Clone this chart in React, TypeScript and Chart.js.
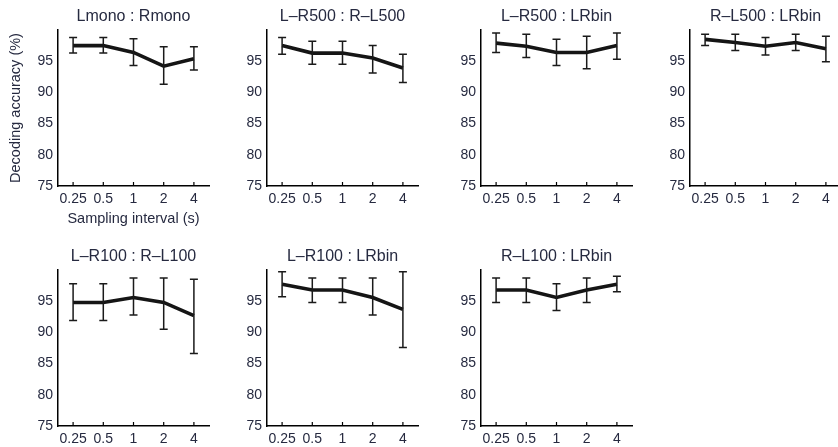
import React, { useEffect, useRef } from 'react';
import { Chart, registerables } from 'chart.js';

Chart.register(...registerables);

// ---------- data ----------
const categories = ['0.25', '0.5', '1', '2', '4'];
const yTickValues = [75, 80, 85, 90, 95];
const yTitle = 'Decoding accuracy (%)';
const xTitle = 'Sampling interval (s)';

const lmonoRmonoMean = [97.5, 97.5, 96.4, 94.2, 95.4];
const lmonoRmonoHigh = [98.8, 98.8, 98.6, 97.3, 97.3];
const lmonoRmonoLow = [96.3, 96.3, 94.3, 91.3, 93.6];

const lr500Rl500Mean = [97.5, 96.3, 96.3, 95.5, 93.9];
const lr500Rl500High = [98.8, 98.2, 98.2, 97.5, 96.1];
const lr500Rl500Low = [96.1, 94.5, 94.5, 93.1, 91.6];

const lr500LrbinMean = [97.9, 97.4, 96.4, 96.4, 97.5];
const lr500LrbinHigh = [99.5, 99.3, 98.5, 99.0, 99.5];
const lr500LrbinLow = [96.4, 95.6, 94.3, 93.8, 95.3];

const rl500LrbinMean = [98.5, 98.0, 97.4, 98.0, 97.0];
const rl500LrbinHigh = [99.3, 99.3, 98.8, 99.3, 99.0];
const rl500LrbinLow = [97.5, 96.7, 96.0, 96.7, 94.9];

const lr100Rl100Mean = [94.8, 94.8, 95.6, 94.8, 92.7];
const lr100Rl100High = [97.8, 97.8, 98.7, 98.7, 98.5];
const lr100Rl100Low = [91.9, 91.9, 92.8, 90.5, 86.6];

const lr100LrbinMean = [97.7, 96.8, 96.8, 95.6, 93.7];
const lr100LrbinHigh = [99.7, 98.7, 98.7, 98.7, 99.7];
const lr100LrbinLow = [95.7, 94.8, 94.8, 92.8, 87.6];

const rl100LrbinMean = [96.8, 96.8, 95.6, 96.8, 97.7];
const rl100LrbinHigh = [98.7, 98.7, 97.8, 98.7, 99.0];
const rl100LrbinLow = [94.8, 94.8, 93.5, 94.8, 96.5];

// ---------- layout ----------
const FONT = "'Liberation Sans', Arial, Helvetica, sans-serif";
const TEXT = '#262a40';
const Y_AXIS_W = 58;
const PLOT_W = 151;
const PLOT_H = 156;
const TITLE_H = 30;
const X_AXIS_H = 44;
const RIGHT_PAD = 12;
const CANVAS_W = Y_AXIS_W + PLOT_W + RIGHT_PAD;
const CANVAS_H = TITLE_H + PLOT_H + X_AXIS_H;

type PanelDef = {
  title: string;
  mean: number[];
  high: number[];
  low: number[];
  left: number; // plot-area left
  top: number; // plot-area top
  axisTitles: boolean;
};

const panels: PanelDef[] = [
  { title: 'Lmono : Rmono', mean: lmonoRmonoMean, high: lmonoRmonoHigh, low: lmonoRmonoLow, left: 58, top: 30, axisTitles: true },
  { title: 'L\u2013R500 : R\u2013L500', mean: lr500Rl500Mean, high: lr500Rl500High, low: lr500Rl500Low, left: 267, top: 30, axisTitles: false },
  { title: 'L\u2013R500 : LRbin', mean: lr500LrbinMean, high: lr500LrbinHigh, low: lr500LrbinLow, left: 481, top: 30, axisTitles: false },
  { title: 'R\u2013L500 : LRbin', mean: rl500LrbinMean, high: rl500LrbinHigh, low: rl500LrbinLow, left: 690, top: 30, axisTitles: false },
  { title: 'L\u2013R100 : R\u2013L100', mean: lr100Rl100Mean, high: lr100Rl100High, low: lr100Rl100Low, left: 58, top: 270, axisTitles: false },
  { title: 'L\u2013R100 : LRbin', mean: lr100LrbinMean, high: lr100LrbinHigh, low: lr100LrbinLow, left: 267, top: 270, axisTitles: false },
  { title: 'R\u2013L100 : LRbin', mean: rl100LrbinMean, high: rl100LrbinHigh, low: rl100LrbinLow, left: 481, top: 270, axisTitles: false },
];

function Panel({ def }: { def: PanelDef }) {
  const ref = useRef<HTMLCanvasElement | null>(null);

  useEffect(() => {
    if (!ref.current) return;
    const errorBars = {
      id: 'errorBars',
      afterDatasetsDraw(chart: any) {
        const ctx = chart.ctx as CanvasRenderingContext2D;
        const xs = chart.scales.x;
        const ys = chart.scales.y;
        const area = chart.chartArea;
        ctx.save();
        ctx.strokeStyle = '#1a1a1a';
        ctx.lineWidth = 1.5;
        def.mean.forEach((_, i) => {
          const x = xs.getPixelForValue(i);
          const yH = ys.getPixelForValue(def.high[i]);
          const yL = ys.getPixelForValue(def.low[i]);
          ctx.beginPath();
          ctx.moveTo(x, yH);
          ctx.lineTo(x, yL);
          ctx.moveTo(x - 4, yH);
          ctx.lineTo(x + 4, yH);
          ctx.moveTo(x - 4, yL);
          ctx.lineTo(x + 4, yL);
          ctx.stroke();
        });
        // inward x tick marks
        const yb = area.bottom;
        ctx.strokeStyle = '#000';
        ctx.lineWidth = 1.2;
        categories.forEach((_, i) => {
          const x = xs.getPixelForValue(i);
          ctx.beginPath();
          ctx.moveTo(x, yb);
          ctx.lineTo(x, yb - 4);
          ctx.stroke();
        });
        // panel title centred over the plot area
        ctx.fillStyle = TEXT;
        ctx.font = `16px ${FONT}`;
        ctx.textAlign = 'center';
        ctx.textBaseline = 'middle';
        ctx.fillText(def.title, (area.left + area.right) / 2, 17);
        ctx.restore();
      },
    };

    const chart = new Chart(ref.current, {
      type: 'line',
      data: {
        labels: categories,
        datasets: [
          {
            data: def.mean,
            borderColor: '#151515',
            borderWidth: 3.6,
            pointRadius: 0,
            tension: 0,
            fill: false,
          },
        ],
      },
      options: {
        animation: false,
        responsive: false,
        devicePixelRatio: 1,
        layout: { padding: { left: 0, right: RIGHT_PAD, top: TITLE_H, bottom: 0 } },
        plugins: {
          legend: { display: false },
          tooltip: { enabled: false },
          title: { display: false },
        },
        scales: {
          x: {
            type: 'category',
            offset: true,
            grid: { display: false, drawTicks: false },
            border: { display: true, color: '#000', width: 1.5 },
            ticks: {
              color: TEXT,
              font: { family: FONT, size: 14 },
              padding: 5,
              maxRotation: 0,
              autoSkip: false,
            },
            title: {
              display: def.axisTitles,
              text: xTitle,
              color: TEXT,
              font: { family: FONT, size: 14.5 },
              padding: { top: 0, bottom: 2 },
            },
            afterFit: (s: any) => {
              s.height = X_AXIS_H;
            },
          },
          y: {
            type: 'linear',
            min: 75,
            max: 100,
            grid: { display: false, drawTicks: false },
            border: { display: true, color: '#000', width: 1.5 },
            afterBuildTicks: (s: any) => {
              s.ticks = yTickValues.map((v) => ({ value: v }));
            },
            ticks: {
              color: TEXT,
              font: { family: FONT, size: 14 },
              padding: 5,
            },
            title: {
              display: def.axisTitles,
              text: yTitle,
              color: TEXT,
              font: { family: FONT, size: 14.5 },
              padding: { top: 7, bottom: 0 },
            },
            afterFit: (s: any) => {
              s.width = Y_AXIS_W;
            },
          },
        },
      },
      plugins: [errorBars],
    } as any);
    return () => chart.destroy();
  }, [def]);

  return (
    <canvas
      ref={ref}
      width={CANVAS_W}
      height={CANVAS_H}
      style={{
        position: 'absolute',
        left: def.left - Y_AXIS_W,
        top: def.top - TITLE_H,
        width: CANVAS_W,
        height: CANVAS_H,
      }}
    />
  );
}

export default function App() {
  return (
    <div
      style={{
        position: 'absolute',
        left: 0,
        top: 0,
        width: 838,
        height: 447,
        overflow: 'hidden',
        background: '#fff',
      }}
    >
      {panels.map((p, i) => (
        <Panel key={i} def={p} />
      ))}
    </div>
  );
}
